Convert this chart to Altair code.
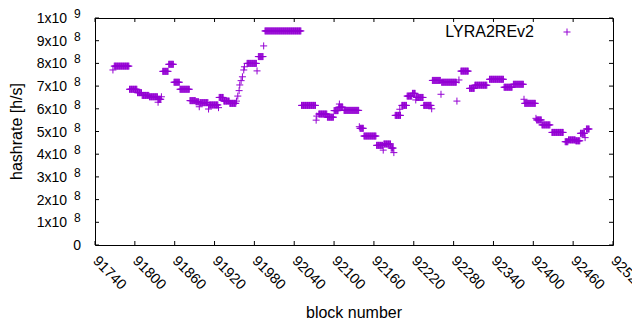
import altair as alt
import pandas as pd

series_name = "LYRA2REv2"

# runs of consecutive blocks with the same hashrate (values in 1e8 h/s)
run_start = [91769, 91792, 91804, 91811, 91822, 91835, 91842, 91851, 91859, 91868,
             91883, 91892, 91898, 91912, 91927, 91934, 91943, 91969, 91986, 91996,
             92051, 92077, 92090, 92100, 92107, 92115, 92139, 92145, 92164, 92175,
             92186, 92192, 92202, 92210, 92218, 92224, 92235, 92248, 92262, 92291,
             92304, 92312, 92334, 92356, 92370, 92387, 92405, 92413, 92428, 92448,
             92453, 92464, 92471, 92480]
run_end = [91791, 91803, 91810, 91821, 91834, 91839, 91850, 91858, 91867, 91882,
           91891, 91896, 91910, 91925, 91933, 91942, 91952, 91983, 91993, 92050,
           92072, 92089, 92099, 92106, 92113, 92137, 92144, 92163, 92173, 92185,
           92189, 92200, 92209, 92217, 92222, 92234, 92246, 92260, 92284, 92302,
           92311, 92330, 92355, 92368, 92385, 92403, 92412, 92425, 92445, 92452,
           92463, 92470, 92477, 92484]
run_value = [7.88, 6.86, 6.71, 6.59, 6.53, 6.42, 7.65, 7.96, 7.17, 6.86,
             6.36, 6.31, 6.27, 6.17, 6.50, 6.34, 6.24, 8.00, 8.30, 9.43,
             6.15, 5.77, 5.63, 5.92, 6.07, 5.93, 5.14, 4.80, 4.39, 4.45,
             4.27, 5.71, 6.15, 6.56, 6.68, 6.50, 6.15, 7.25, 7.17, 7.66,
             6.90, 7.04, 7.30, 6.95, 7.08, 6.24, 5.51, 5.29, 4.96, 4.55,
             4.63, 4.59, 4.92, 5.11]

# isolated blocks
single_block = [91767, 91835, 91840, 91897, 91911, 91926, 91953, 91955, 91957, 91958,
                91960, 91962, 91964, 91965, 91984, 91994, 92073, 92074, 92108, 92138,
                92174, 92190, 92199, 92223, 92247, 92261, 92285, 92288, 92386, 92404,
                92478]
single_value = [7.71, 6.29, 6.53, 6.09, 5.99, 6.05, 6.34, 6.56, 6.80, 7.05,
                7.24, 7.41, 7.71, 7.85, 7.67, 8.77, 5.50, 5.68, 6.21, 5.21,
                4.18, 4.07, 5.98, 6.39, 6.00, 6.64, 6.34, 7.27, 6.42, 5.58,
                4.73]

x_ticks = [91740, 91800, 91860, 91920, 91980, 92040, 92100, 92160, 92220, 92280,
           92340, 92400, 92460, 92520]
y_ticks = [0, 1e8, 2e8, 3e8, 4e8, 5e8, 6e8, 7e8, 8e8, 9e8, 1e9]
y_mantissa = ["0", "1x10", "2x10", "3x10", "4x10", "5x10", "6x10", "7x10", "8x10", "9x10", "1x10"]
y_exponent = ["", "8", "8", "8", "8", "8", "8", "8", "8", "8", "9"]

rows = []
for s, e, v in zip(run_start, run_end, run_value):
    for b in range(s, e + 1):
        rows.append({"block": b, "hashrate": v * 1e8})
for b, v in zip(single_block, single_value):
    rows.append({"block": b, "hashrate": v * 1e8})
df = pd.DataFrame(rows)

W, H = 518, 227
FONT = "Liberation Sans"
COLOR = "#9400d3"
PLUS = "M-1,0L1,0M0,-1L0,1"

xs = alt.Scale(domain=[91740, 92520], nice=False, zero=False)
ys = alt.Scale(domain=[0, 1e9], nice=False, zero=False)

points = alt.Chart(df).mark_point(
    shape=PLUS, size=49, filled=False, strokeWidth=1, color=COLOR, opacity=1
).encode(
    x=alt.X("block:Q", scale=xs, axis=None),
    y=alt.Y("hashrate:Q", scale=ys, axis=None),
)

xt = pd.DataFrame({"t": x_ticks, "label": [str(t) for t in x_ticks]})
yt = pd.DataFrame({"v": y_ticks, "m": y_mantissa, "e": y_exponent})

xb = alt.Chart(xt).mark_rule(color="black", strokeWidth=1).encode(
    x=alt.X("t:Q", scale=xs, axis=None), y=alt.value(H), y2=alt.value(H - 4))
xtop = alt.Chart(xt).mark_rule(color="black", strokeWidth=1).encode(
    x=alt.X("t:Q", scale=xs, axis=None), y=alt.value(0), y2=alt.value(4))
yl = alt.Chart(yt).mark_rule(color="black", strokeWidth=1).encode(
    y=alt.Y("v:Q", scale=ys, axis=None), x=alt.value(0), x2=alt.value(4))
yr = alt.Chart(yt).mark_rule(color="black", strokeWidth=1).encode(
    y=alt.Y("v:Q", scale=ys, axis=None), x=alt.value(W - 4), x2=alt.value(W))

xlabels = alt.Chart(xt).mark_text(
    angle=45, align="left", baseline="middle", font=FONT, fontSize=14.5, color="black"
).encode(x=alt.X("t:Q", scale=xs, axis=None), y=alt.value(H + 14), text="label:N")

ymant = alt.Chart(yt).transform_filter(alt.datum.e != "").mark_text(
    align="right", baseline="middle", font=FONT, fontSize=14, color="black", dy=1
).encode(y=alt.Y("v:Q", scale=ys, axis=None), x=alt.value(-28), text="m:N")
yzero = alt.Chart(yt).transform_filter(alt.datum.e == "").mark_text(
    align="right", baseline="middle", font=FONT, fontSize=14, color="black", dy=1
).encode(y=alt.Y("v:Q", scale=ys, axis=None), x=alt.value(-14), text="m:N")
yexp = alt.Chart(yt).transform_filter(alt.datum.e != "").mark_text(
    align="left", baseline="middle", font=FONT, fontSize=12, color="black", dy=-4
).encode(y=alt.Y("v:Q", scale=ys, axis=None), x=alt.value(-21), text="e:N")

title_df = pd.DataFrame({"xt": ["block number"], "yt": ["hashrate [h/s]"], "s": [series_name]})
xtitle = alt.Chart(title_df).mark_text(
    align="center", baseline="middle", font=FONT, fontSize=16, color="black"
).encode(x=alt.value(W / 2), y=alt.value(295), text="xt:N")
ytitle = alt.Chart(title_df).mark_text(
    align="center", baseline="middle", font=FONT, fontSize=16, color="black", angle=270
).encode(x=alt.value(-78), y=alt.value(H / 2), text="yt:N")
leg_text = alt.Chart(title_df).mark_text(
    align="right", baseline="middle", font=FONT, fontSize=16, color="black"
).encode(x=alt.value(439), y=alt.value(14), text="s:N")
leg_mark = alt.Chart(title_df).mark_point(
    shape=PLUS, size=49, filled=False, strokeWidth=1, color=COLOR, opacity=1
).encode(x=alt.value(472), y=alt.value(14))

chart = alt.layer(
    xb, xtop, yl, yr, points, xlabels, ymant, yzero, yexp, xtitle, ytitle, leg_text, leg_mark
).properties(
    width=W, height=H,
    padding={"left": 87, "top": 10, "right": 19, "bottom": 77},
    autosize="none",
).configure_view(stroke="black", strokeWidth=1)

chart.save("out.html", embed_options={"renderer": "svg", "actions": False})
